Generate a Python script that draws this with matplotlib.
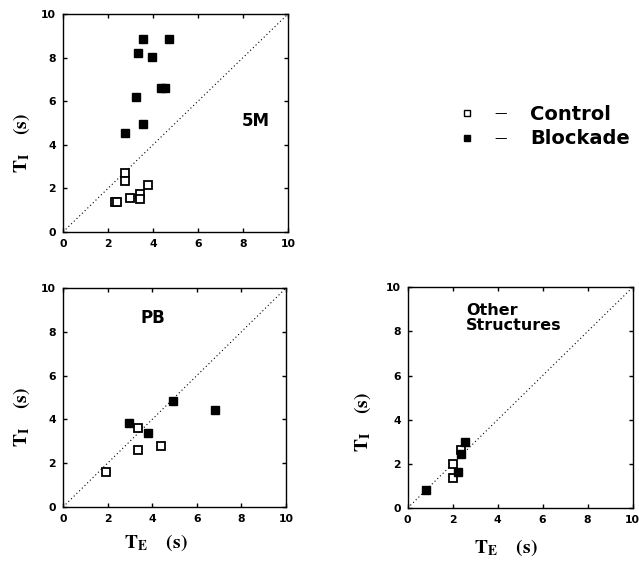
import matplotlib
matplotlib.use("Agg")
import matplotlib.pyplot as plt
from matplotlib.lines import Line2D

plt.rcParams["mathtext.fontset"] = "stix"

# Panel 5M
m5_ctrl_te = [2.77, 2.77, 2.3, 2.4, 2.96, 3.41, 3.41, 3.78]
m5_ctrl_ti = [2.7, 2.35, 1.38, 1.38, 1.55, 1.75, 1.5, 2.15]
m5_blk_te = [3.56, 4.70, 3.33, 3.96, 4.35, 4.55, 3.26, 3.56, 2.77]
m5_blk_ti = [8.84, 8.84, 8.23, 8.02, 6.6, 6.6, 6.18, 4.95, 4.55]

# Panel PB
pb_ctrl_te = [1.95, 3.38, 3.37, 4.39]
pb_ctrl_ti = [1.6, 3.62, 2.6, 2.8]
pb_blk_te = [2.96, 3.79, 4.95, 6.8]
pb_blk_ti = [3.82, 3.4, 4.85, 4.43]

# Panel Other Structures
os_ctrl_te = [2.0, 2.03, 2.37]
os_ctrl_ti = [2.0, 1.38, 2.63]
os_blk_te = [0.8, 2.22, 2.37, 2.56]
os_blk_ti = [0.82, 1.62, 2.44, 2.98]

ticks = [0, 2, 4, 6, 8, 10]
tick_labels = ["0", "2", "4", "6", "8", "10"]

fig = plt.figure(figsize=(6.39, 5.63), dpi=100)
fig.patch.set_facecolor("white")

sans = ["DejaVu Sans"]
label_sans = ["DejaVu Sans"]

YLAB = r"$\mathbf{T_I}$   $\mathbf{(s)}$"
XLAB = r"$\mathbf{T_E}$   $\mathbf{(s)}$"

def setup(ax, ylab_xy, xlab_xy=None):
    ax.set_xlim(0, 10)
    ax.set_ylim(0, 10)
    ax.set_xticks(ticks)
    ax.set_yticks(ticks)
    ax.set_xticklabels(tick_labels, fontsize=7.8, fontweight="bold", family=sans)
    ax.set_yticklabels(tick_labels, fontsize=7.8, fontweight="bold", family=sans)
    ax.tick_params(direction="in", length=3, width=1, top=True, right=True, pad=5)
    for s in ax.spines.values():
        s.set_linewidth(1.0)
        s.set_color("black")
    ax.plot([0, 10], [0, 10], linestyle=(0, (1, 2.4)), color="black", linewidth=0.8)
    ax.set_ylabel(YLAB, fontsize=14)
    ax.yaxis.set_label_coords(*ylab_xy)
    if xlab_xy is not None:
        ax.set_xlabel(XLAB, fontsize=14)
        ax.xaxis.set_label_coords(*xlab_xy)

def pts(ax, cte, cti, bte, bti):
    ax.plot(cte, cti, linestyle="none", marker="s", markersize=5.2, markerfacecolor="white",
            markeredgecolor="black", markeredgewidth=1.3, zorder=3)
    ax.plot(bte, bti, linestyle="none", marker="s", markersize=5.8, markerfacecolor="black",
            markeredgecolor="black", zorder=3)

ax1 = fig.add_axes([0.0986, 0.588, 0.352, 0.387])
setup(ax1, (-0.14, 0.41))
pts(ax1, m5_ctrl_te, m5_ctrl_ti, m5_blk_te, m5_blk_ti)
ax1.text(7.95, 5.1, "5M", fontsize=12, fontweight="bold", family=label_sans, ha="left", va="center")

ax2 = fig.add_axes([0.0986, 0.0995, 0.349, 0.389])
setup(ax2, (-0.14, 0.41), (0.415, -0.115))
pts(ax2, pb_ctrl_te, pb_ctrl_ti, pb_blk_te, pb_blk_ti)
ax2.text(4.05, 8.65, "PB", fontsize=12, fontweight="bold", family=label_sans, ha="center", va="center")

ax3 = fig.add_axes([0.638, 0.0977, 0.352, 0.392])
setup(ax3, (-0.155, 0.39), (0.436, -0.135))
pts(ax3, os_ctrl_te, os_ctrl_ti, os_blk_te, os_blk_ti)
ax3.text(2.6, 8.6, "Other\nStructures", fontsize=11.5, fontweight="bold", family=label_sans,
         ha="left", va="center", linespacing=0.95)

# Legend
fig.add_artist(Line2D([467 / 639], [1 - 113 / 563], marker="s", markersize=4.5, markerfacecolor="white",
                      markeredgecolor="black", markeredgewidth=1.0, linestyle="none"))
fig.add_artist(Line2D([467 / 639], [1 - 138 / 563], marker="s", markersize=5, markerfacecolor="black",
                      markeredgecolor="black", linestyle="none"))
fig.text(501 / 639, 1 - 114 / 563, "\u2014", fontsize=9, ha="center", va="center", family=sans)
fig.text(501 / 639, 1 - 139 / 563, "\u2014", fontsize=9, ha="center", va="center", family=sans)
fig.text(530 / 639, 1 - 114 / 563, "Control", fontsize=14, fontweight="bold", ha="left", va="center", family=label_sans)
fig.text(530 / 639, 1 - 139 / 563, "Blockade", fontsize=14, fontweight="bold", ha="left", va="center", family=label_sans)

fig.savefig("out.png", dpi=100, facecolor="white")
